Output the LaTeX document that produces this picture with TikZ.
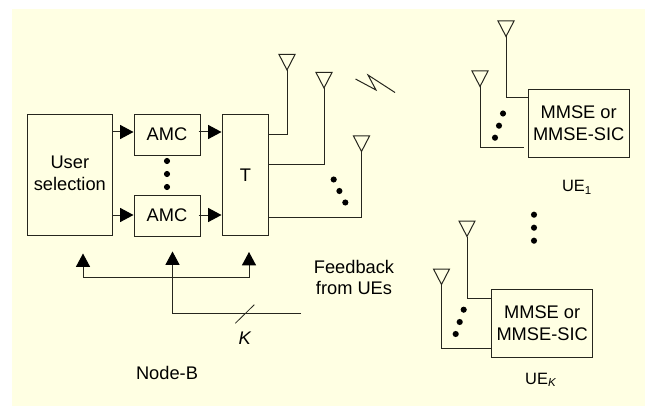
\documentclass[tikz,border=0pt]{standalone}
\usepackage{fontspec}
\setmainfont{Liberation Sans}
\usetikzlibrary{arrows.meta}
\definecolor{bgc}{HTML}{FFFFE3}
\definecolor{ln}{HTML}{26261E}
\tikzset{x=0.75pt,y=-0.75pt,
 box/.style={draw=ln,line width=0.75pt,fill=bgc,inner sep=0pt,anchor=north west,align=center,font=\fontsize{13.7pt}{16.2pt}\selectfont},
 wire/.style={draw=ln,line width=0.75pt},
 arr/.style={wire,-{Triangle[length=10pt,width=10.5pt,color=black]}},
 lab/.style={inner sep=0pt,align=center,anchor=center,text=black,font=\fontsize{13.7pt}{16pt}\selectfont},
 uelab/.style={lab,font=\fontsize{12.3pt}{15pt}\selectfont},
 dotc/.style={circle,fill=black,inner sep=0pt,minimum size=4.6pt}}
\newcommand{\antenna}[3]{% name, x tip, y tip
 \coordinate (#1) at (#2,#3);
 \draw[wire,line join=miter] (#2,#3) -- (#2-8,#3-15.5) -- (#2+8,#3-15.5) -- cycle;}
\newcommand{\threedots}[6]{%
 \node[dotc] at (#1,#2) {}; \node[dotc] at (#3,#4) {}; \node[dotc] at (#5,#6) {};}
\begin{document}
\begin{tikzpicture}
\useasboundingbox (0,0) rectangle (645,406);
\fill[white] (0,0) rectangle (645,406);
\fill[bgc] (12,9) rectangle (645,406);
% boxes
\node[box,minimum width=63.5pt,minimum height=90.5pt] (us) at (27,114.5) {\raisebox{4.5pt}{\begin{tabular}{@{}c@{}}User\\selection\end{tabular}}};
\node[box,minimum width=49.5pt,minimum height=31pt] (a1) at (133.5,114) {\raisebox{1.6pt}{AMC}};
\node[box,minimum width=49.5pt,minimum height=30.5pt] (a2) at (133.5,195) {\raisebox{0.6pt}{AMC}};
\node[box,minimum width=35pt,minimum height=90.5pt] (t) at (221.5,114.5) {T};
\node[box,minimum width=76pt,minimum height=51pt] (u1) at (527.5,89) {MMSE or\\MMSE-SIC};
\node[box,minimum width=76pt,minimum height=51pt] (u2) at (491,289) {MMSE or\\MMSE-SIC};
% antennas
\antenna{t1}{287}{70}
\antenna{t2}{324}{88}
\antenna{t3}{361.5}{151.5}
\antenna{r1}{506}{36.5}
\antenna{r2}{480}{86.5}
\antenna{k1}{467}{236.5}
\antenna{k2}{441.5}{284.5}
% coordinates
\coordinate (s1) at (112,132);
\coordinate (s2) at (112,215);
\coordinate (d1) at (133.5,132);
\coordinate (d2) at (133.5,215);
\coordinate (o1) at (198.5,132);
\coordinate (o2) at (198.5,215);
\coordinate (e1) at (221.5,132);
\coordinate (e2) at (221.5,215);
\coordinate (c1) at (268,135);
\coordinate (c2) at (268,164);
\coordinate (c3) at (268,217);
\coordinate (fa) at (83,253.5);
\coordinate (fb) at (172.5,251.5);
\coordinate (fc) at (249,252);
\coordinate (rr2) at (524,147);
\coordinate (in) at (301,313.5);
\coordinate (sa) at (235.3,323.3);
\coordinate (sb) at (254.3,304.7);
\coordinate (za) at (355.5,79);
\coordinate (zb) at (376,90);
\coordinate (zc) at (368,75);
\coordinate (zd) at (395,92.5);
% arrows
\draw[arr] (s1) -- (d1);
\draw[arr] (s2) -- (d2);
\draw[arr] (o1) -- (e1);
\draw[arr] (o2) -- (e2);
% antenna feeds
\draw[wire] (t1) -- (c1 -| t1) -- (c1);
\draw[wire] (t2) -- (c2 -| t2) -- (c2);
\draw[wire] (t3) -- (c3 -| t3) -- (c3);
\draw[wire] (r1) |- (u1.west |- 0,98);
\draw[wire] (r2) |- (rr2);
\draw[wire] (k1) |- (u2.west |- 0,298);
\draw[wire] (k2) |- (u2.west |- 0,348);
% feedback
\draw[arr] (in) -| (fb);
\draw[arr] (83,277) -- (fa);
\draw[arr] (83,277) -- (249,277) -- (fc);
\draw[draw=ln,line width=0.6pt] (sa) -- (sb);
% lightning
\draw[draw=ln,line width=0.75pt] (za) -- (zb) -- (zc) -- (zd);
% dots
\threedots{167}{161}{167}{174}{167}{187}
\threedots{333.7}{179.5}{339.4}{191}{345.3}{202.5}
\threedots{503}{113.5}{499}{125.7}{495}{137.7}
\threedots{534}{214.7}{534}{227.7}{534}{240.7}
\threedots{463.7}{309.7}{459.7}{322}{455.7}{334}
% labels
\node[uelab] (ue1) at (577,187.5) {UE\textsubscript{1}};
\node[uelab] (uek) at (541,380) {UE\textsubscript{\textit{K}}};
\node[lab] (nb) at (167,373) {Node-B};
\node[lab] (kk) at (245,338) {\textit{K}};
\node[lab] (fbk) at (354,277.5) {Feedback\\from UEs};
\end{tikzpicture}
\end{document}
